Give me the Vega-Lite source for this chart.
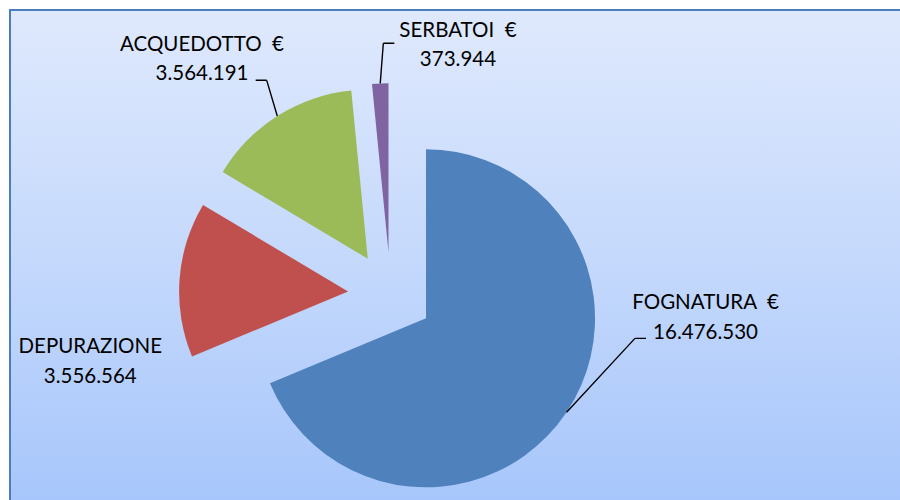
{
  "$schema": "https://vega.github.io/schema/vega-lite/v6.json",
  "width": 891,
  "height": 491,
  "autosize": {"type": "none"},
  "padding": {"left": 10, "top": 10, "right": 0, "bottom": 0},
  "background": "white",
  "config": {
    "locale": {"number": {"decimal": ",", "thousands": ".", "grouping": [3], "currency": ["€", ""]}},
    "view": {"stroke": null}
  },
  "data": {"values": [
    {"cat": "FOGNATURA", "label": "FOGNATURA \u00a0€", "value": 16476530, "ord": 1},
    {"cat": "DEPURAZIONE", "label": "DEPURAZIONE", "value": 3556564, "ord": 2},
    {"cat": "ACQUEDOTTO", "label": "ACQUEDOTTO \u00a0€", "value": 3564191, "ord": 3},
    {"cat": "SERBATOI", "label": "SERBATOI \u00a0€", "value": 373944, "ord": 4}
  ]},
  "transform": [
    {"joinaggregate": [{"op": "sum", "field": "value", "as": "total"}]},
    {"stack": "value", "groupby": [], "sort": [{"field": "ord", "order": "ascending"}], "as": ["v0", "v1"]}
  ],
  "layer": [
    {
      "transform": [{"filter": "datum.ord === 1"}],
      "mark": {"type": "rect", "stroke": "#4a7ebb", "strokeWidth": 2,
        "fill": {"gradient": "linear", "x1": 0, "y1": 0, "x2": 0, "y2": 1,
          "stops": [{"offset": 0, "color": "#dfe9fd"}, {"offset": 0.5, "color": "#c5d9fc"}, {"offset": 1, "color": "#a7c6fb"}]}},
      "encoding": {}
    },
    {
      "mark": {"type": "arc", "outerRadius": 169,
        "xOffset": {"expr": "42.6*sin(PI*(datum.v0+datum.v1)/datum.total)-64.9"},
        "yOffset": {"expr": "39.2-42.6*cos(PI*(datum.v0+datum.v1)/datum.total)"}},
      "encoding": {
        "theta": {"field": "v0", "type": "quantitative"},
        "theta2": {"field": "v1"},
        "color": {"field": "cat", "type": "nominal", "legend": null,
          "scale": {"domain": ["FOGNATURA", "DEPURAZIONE", "ACQUEDOTTO", "SERBATOI"], "range": ["#4f81bd", "#c0504d", "#9bbb59", "#8064a2"]}}
      }
    },
    {
      "transform": [{"filter": "datum.cat === 'FOGNATURA'"}],
      "mark": {"type": "arc", "theta": 0.747, "theta2": 0.747, "innerRadius": 0, "outerRadius": 100.6,
        "fillOpacity": 0, "stroke": "black", "strokeWidth": 1.4,
        "xOffset": {"expr": "211.6*sin(PI*(datum.v0+datum.v1)/datum.total)-64.9"},
        "yOffset": {"expr": "39.2-211.6*cos(PI*(datum.v0+datum.v1)/datum.total)"}},
      "encoding": {}
    },
    {
      "transform": [{"filter": "datum.cat === 'FOGNATURA'"}],
      "mark": {"type": "arc", "theta": 1.5708, "theta2": 1.5708, "innerRadius": 0, "outerRadius": 11,
        "fillOpacity": 0, "stroke": "black", "strokeWidth": 1.4,
        "xOffset": {"expr": "211.6*sin(PI*(datum.v0+datum.v1)/datum.total)-64.9+68.4"},
        "yOffset": {"expr": "39.2-211.6*cos(PI*(datum.v0+datum.v1)/datum.total)-73.8"}},
      "encoding": {}
    },
    {
      "transform": [{"filter": "datum.cat === 'ACQUEDOTTO'"}],
      "mark": {"type": "arc", "theta": -0.288, "theta2": -0.288, "innerRadius": 0, "outerRadius": 37.2,
        "fillOpacity": 0, "stroke": "black", "strokeWidth": 1.4,
        "xOffset": {"expr": "211.6*sin(PI*(datum.v0+datum.v1)/datum.total)-64.9"},
        "yOffset": {"expr": "39.2-211.6*cos(PI*(datum.v0+datum.v1)/datum.total)"}},
      "encoding": {}
    },
    {
      "transform": [{"filter": "datum.cat === 'ACQUEDOTTO'"}],
      "mark": {"type": "arc", "theta": 4.7124, "theta2": 4.7124, "innerRadius": 0, "outerRadius": 11,
        "fillOpacity": 0, "stroke": "black", "strokeWidth": 1.4,
        "xOffset": {"expr": "211.6*sin(PI*(datum.v0+datum.v1)/datum.total)-64.9-10.6"},
        "yOffset": {"expr": "39.2-211.6*cos(PI*(datum.v0+datum.v1)/datum.total)-35.7"}},
      "encoding": {}
    },
    {
      "transform": [{"filter": "datum.cat === 'SERBATOI'"}],
      "mark": {"type": "arc", "theta": 0.077, "theta2": 0.077, "innerRadius": 0, "outerRadius": 40.2,
        "fillOpacity": 0, "stroke": "black", "strokeWidth": 1.4,
        "xOffset": {"expr": "211.6*sin(PI*(datum.v0+datum.v1)/datum.total)-64.9"},
        "yOffset": {"expr": "39.2-211.6*cos(PI*(datum.v0+datum.v1)/datum.total)"}},
      "encoding": {}
    },
    {
      "transform": [{"filter": "datum.cat === 'SERBATOI'"}],
      "mark": {"type": "arc", "theta": 1.5708, "theta2": 1.5708, "innerRadius": 0, "outerRadius": 11,
        "fillOpacity": 0, "stroke": "black", "strokeWidth": 1.4,
        "xOffset": {"expr": "211.6*sin(PI*(datum.v0+datum.v1)/datum.total)-64.9+3.1"},
        "yOffset": {"expr": "39.2-211.6*cos(PI*(datum.v0+datum.v1)/datum.total)-40.1"}},
      "encoding": {}
    },
    {
      "mark": {"type": "text", "radius": 215, "dx": 71.2, "dy": -65.5, "font": "Lato", "fontSize": 20.5, "lineHeight": 29.5,
        "align": "center", "baseline": "alphabetic", "color": "black",
        "text": {"expr": "[datum.label, format(datum.value, ',d')]"}},
      "encoding": {
        "theta": {"field": "value", "type": "quantitative", "stack": true},
        "order": {"field": "ord"},
        "detail": {"field": "cat"},
        "opacity": {"condition": {"test": "datum.cat === 'FOGNATURA'", "value": 1}, "value": 0}
      }
    },
    {
      "mark": {"type": "text", "radius": 215, "dx": -150.8, "dy": 113.4, "font": "Lato", "fontSize": 20.5, "lineHeight": 29.5,
        "align": "center", "baseline": "alphabetic", "color": "black",
        "text": {"expr": "[datum.label, format(datum.value, ',d')]"}},
      "encoding": {
        "theta": {"field": "value", "type": "quantitative", "stack": true},
        "order": {"field": "ord"},
        "detail": {"field": "cat"},
        "opacity": {"condition": {"test": "datum.cat === 'DEPURAZIONE'", "value": 1}, "value": 0}
      }
    },
    {
      "mark": {"type": "text", "radius": 215, "dx": -138.4, "dy": -23.2, "font": "Lato", "fontSize": 20.5, "lineHeight": 29.5,
        "align": "center", "baseline": "alphabetic", "color": "black",
        "text": {"expr": "[datum.label, format(datum.value, ',d')]"}},
      "encoding": {
        "theta": {"field": "value", "type": "quantitative", "stack": true},
        "order": {"field": "ord"},
        "detail": {"field": "cat"},
        "opacity": {"condition": {"test": "datum.cat === 'ACQUEDOTTO'", "value": 1}, "value": 0}
      }
    },
    {
      "mark": {"type": "text", "radius": 215, "dx": 13.0, "dy": -4.1, "font": "Lato", "fontSize": 20.5, "lineHeight": 29.5,
        "align": "center", "baseline": "alphabetic", "color": "black",
        "text": {"expr": "[datum.label, format(datum.value, ',d')]"}},
      "encoding": {
        "theta": {"field": "value", "type": "quantitative", "stack": true},
        "order": {"field": "ord"},
        "detail": {"field": "cat"},
        "opacity": {"condition": {"test": "datum.cat === 'SERBATOI'", "value": 1}, "value": 0}
      }
    }
  ]
}
